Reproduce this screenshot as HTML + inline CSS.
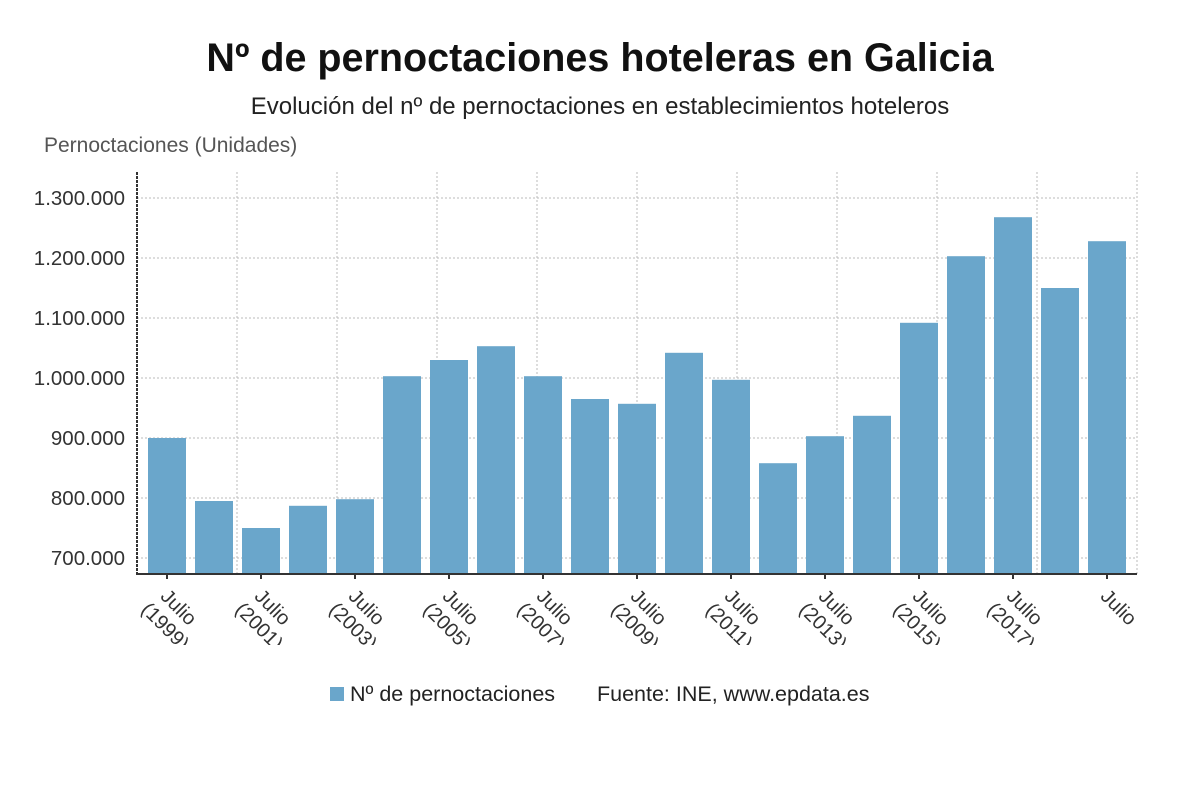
<!DOCTYPE html>
<html><head><meta charset="utf-8"><style>
body{margin:0;background:#fff;}
svg{display:block;font-family:"Liberation Sans","DejaVu Sans",sans-serif;}
</style></head><body>
<svg id="chart" width="1200" height="808" viewBox="0 0 1200 808">
<text x="600" y="71" text-anchor="middle" font-size="39.5" font-weight="bold" fill="#111">Nº de pernoctaciones hoteleras en Galicia</text>
<text x="600" y="114" text-anchor="middle" font-size="24" fill="#222">Evolución del nº de pernoctaciones en establecimientos hoteleros</text>
<text x="44" y="152" font-size="21" fill="#555">Pernoctaciones (Unidades)</text>
<defs><clipPath id="xclip"><rect x="0" y="576" width="1200" height="69"/></clipPath></defs>
<g id="grid"></g><g id="bars"></g><g id="axes"></g><g id="xlabels" clip-path="url(#xclip)"></g>
<g>
<rect x="330" y="687" width="14" height="14" fill="#6aa6cb"/>
<text x="350" y="701" font-size="21.5" fill="#222">Nº de pernoctaciones</text>
<text x="597" y="701" font-size="21.5" fill="#222">Fuente: INE, www.epdata.es</text>
</g>
</svg>
<script>
const years=[1999,2000,2001,2002,2003,2004,2005,2006,2007,2008,2009,2010,2011,2012,2013,2014,2015,2016,2017,2018,2019];
const values=[900000,795000,750000,787000,798000,1003000,1030000,1053000,1003000,965000,957000,1042000,997000,858000,903000,937000,1092000,1203000,1268000,1150000,1228000];
const yTicks=[700000,800000,900000,1000000,1100000,1200000,1300000];
const yTickLabels=["700.000","800.000","900.000","1.000.000","1.100.000","1.200.000","1.300.000"];
const NS="http://www.w3.org/2000/svg";
const x0=137,x1=1137,yTop=172,yBot=574,yMin=673333,yMax=1343333;
const y=v=>yBot-(v-yMin)/(yMax-yMin)*(yBot-yTop);
const xc=i=>167+i*47;
function mk(t,a,p){const e=document.createElementNS(NS,t);for(const k in a)e.setAttribute(k,a[k]);p.appendChild(e);return e;}
const grid=document.getElementById('grid'),bars=document.getElementById('bars'),axes=document.getElementById('axes'),xl=document.getElementById('xlabels');
yTicks.forEach((t,i)=>{
 const l=mk('line',{x1:x0,x2:x1,y1:y(t),y2:y(t),stroke:'#bbb','stroke-dasharray':'2,2'},grid);
 
 
 const tx=mk('text',{x:125,y:y(t)+7,'text-anchor':'end','font-size':20.5,fill:'#333'},axes);
 tx.textContent=yTickLabels[i];
 
 
});
for(let gx=237;gx<=1137;gx+=100){
 const l=mk('line',{x1:gx,x2:gx,y1:yTop,y2:yBot,stroke:'#bbb','stroke-dasharray':'2,2'},grid);
 
 
}
values.forEach((v,i)=>{
 const r=mk('rect',{x:xc(i)-19,y:y(v),width:38,height:yBot-y(v),fill:'#6aa6cb'},bars);
 
 
});
const ya=mk('line',{x1:x0,x2:x0,y1:yTop,y2:yBot+1,stroke:'#333','stroke-width':2,'stroke-dasharray':'3,1'},axes);


const xa=mk('line',{x1:x0,x2:x1,y1:yBot,y2:yBot,stroke:'#333','stroke-width':2},axes);


years.forEach((yr,i)=>{
 if(i%2)return;
 const tk=mk('line',{x1:xc(i),x2:xc(i),y1:yBot,y2:yBot+5,stroke:'#333','stroke-width':2},axes);
 
 
 const g=mk('g',{transform:`translate(${xc(i)+12},${607}) rotate(45)`},xl);
 
 
 const t1=mk('text',{x:0,y:7,'text-anchor':'middle','font-size':20,fill:'#333'},g);t1.textContent='Julio';
 if(yr!==2019){const t2=mk('text',{x:4,y:30,'text-anchor':'middle','font-size':20,fill:'#333'},g);t2.textContent='('+yr+')';}
});
</script>
</body></html>
